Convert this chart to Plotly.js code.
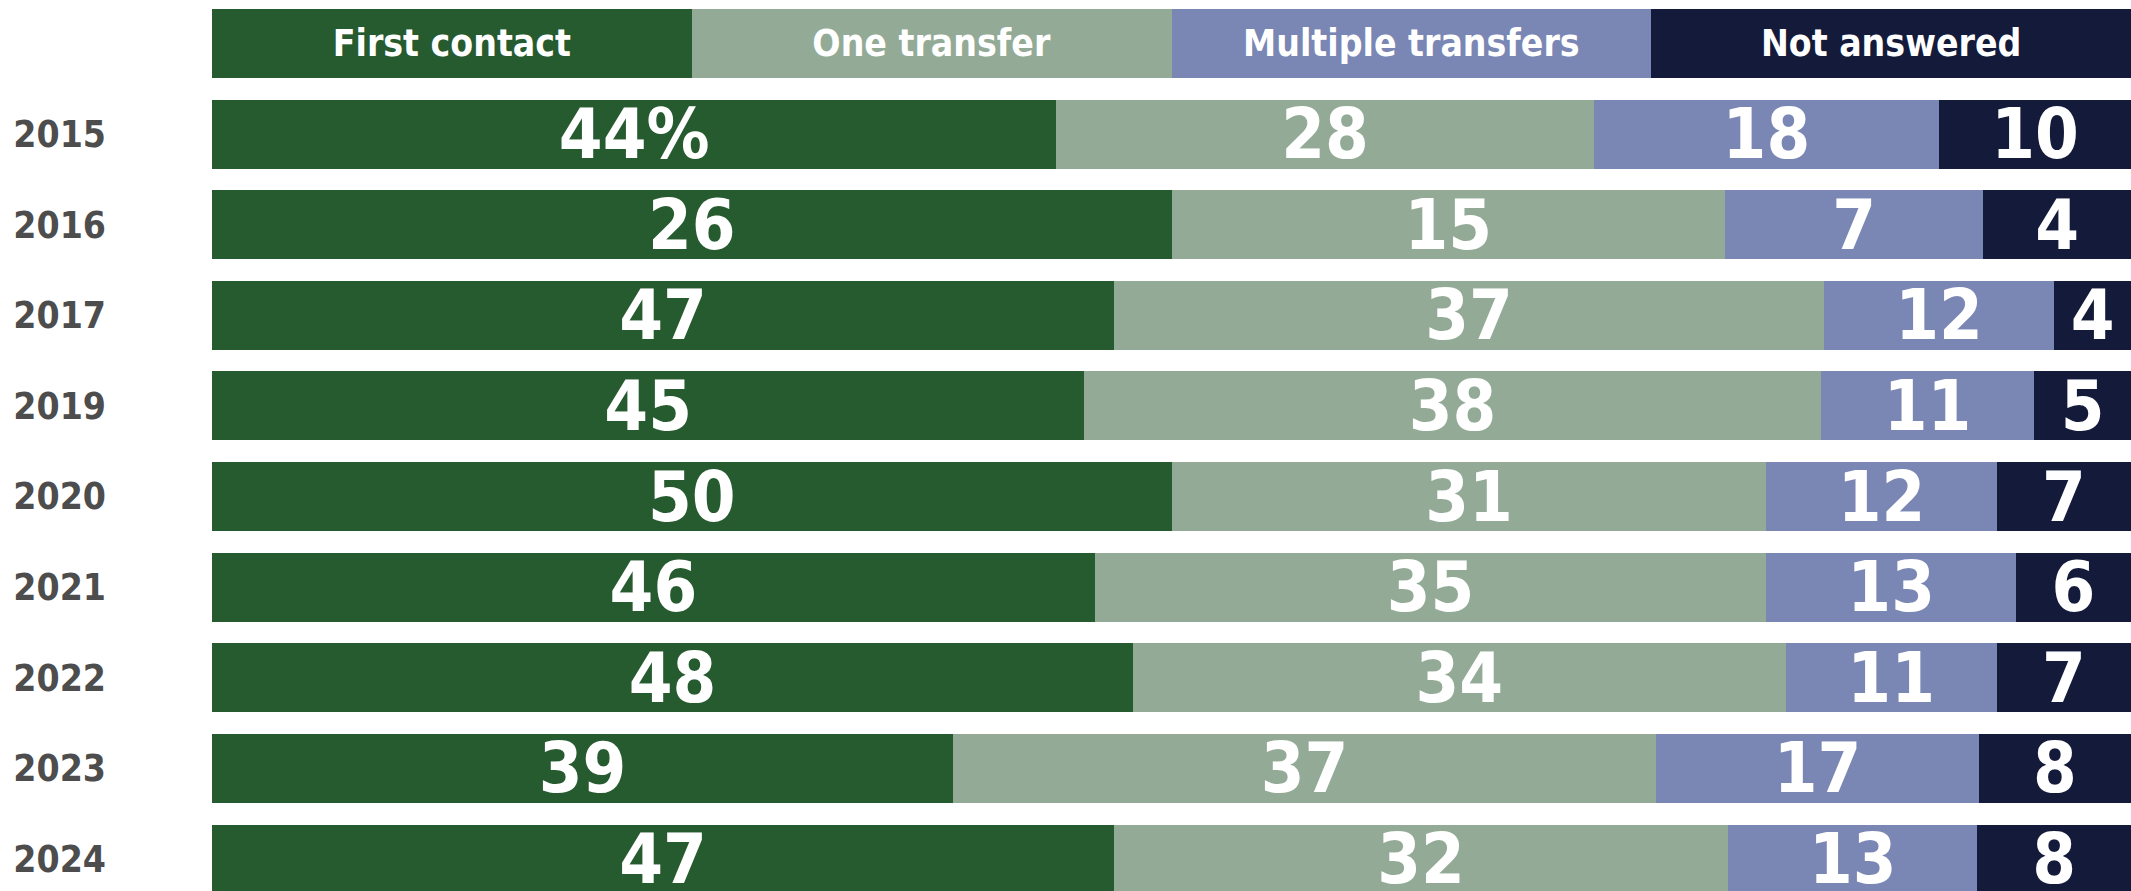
<!DOCTYPE html>
<html>
<head>
<meta charset="utf-8">
<script src="https://cdn.plot.ly/plotly-3.0.1.min.js"></script>
<style>html,body{margin:0;padding:0;background:#fff;}#chart{width:2131px;height:891px;}</style>
</head>
<body>
<div id="chart"></div>
<script>
const years = ["2015","2016","2017","2019","2020","2021","2022","2023","2024"];
const seriesNames = ["First contact","One transfer","Multiple transfers","Not answered"];
const firstContact = [44, 26, 47, 45, 50, 46, 48, 39, 47];
const oneTransfer = [28, 15, 37, 38, 31, 35, 34, 37, 32];
const multipleTransfers = [18, 7, 12, 11, 12, 13, 11, 17, 13];
const notAnswered = [10, 4, 4, 5, 7, 6, 7, 8, 8];
const headerLabel = " ";
const headerShare = 1;

const colors = ["#265a2f", "#93ab96", "#7a86b3", "#131a3a"];
const allValues = [firstContact, oneTransfer, multipleTransfers, notAnswered];
const FONT = "'Liberation Sans Narrow', 'DejaVu Sans Condensed', 'Roboto Condensed', sans-serif";

const cats = [headerLabel].concat(years);
const traces = allValues.map((vals, i) => {
  const texts = [seriesNames[i]].concat(vals.map((v, j) => (i === 0 && j === 0) ? v + "%" : String(v)));
  const sizes = [37].concat(vals.map(() => 70));
  return {
    type: "bar",
    orientation: "h",
    name: seriesNames[i],
    y: cats,
    x: [headerShare].concat(vals),
    text: texts,
    textposition: "inside",
    insidetextanchor: "middle",
    textangle: 0,
    constraintext: "none",
    textfont: {family: FONT, size: sizes, color: "#ffffff", weight: 700},
    marker: {color: colors[i], line: {width: 0}},
    hoverinfo: "skip"
  };
});

const layout = {
  width: 2131,
  height: 891,
  margin: {l: 212, r: 0, t: 0, b: 0},
  barmode: "stack",
  barnorm: "percent",
  bargap: 0.24,
  showlegend: false,
  paper_bgcolor: "#ffffff",
  plot_bgcolor: "#ffffff",
  xaxis: {range: [0, 100], visible: false, fixedrange: true},
  yaxis: {
    type: "category",
    range: [9.354, -0.48],
    showgrid: false, zeroline: false, showline: false,
    ticks: "", ticklabelstandoff: 105,
    tickfont: {family: FONT, size: 37, color: "#4d4d4d", weight: 700}
  }
};

Plotly.newPlot("chart", traces, layout, {displayModeBar: false, staticPlot: true});
</script>
</body>
</html>
